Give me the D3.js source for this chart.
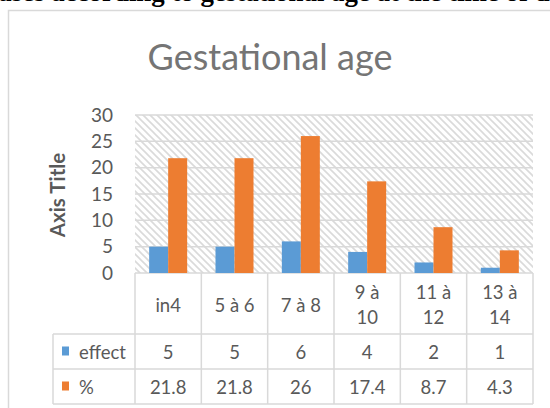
<!DOCTYPE html>
<html>
<head>
<meta charset="utf-8">
<script src="https://cdn.jsdelivr.net/npm/d3@7"></script>
<style>
  html, body { margin: 0; padding: 0; background: #fff; }
  svg { display: block; }
</style>
</head>
<body>
<svg id="chart" width="550" height="408"></svg>
<script>
const categories = [["in4"], ["5 à 6"], ["7 à 8"], ["9 à", "10"], ["11 à", "12"], ["13 à", "14"]];
const effectValues = [5, 5, 6, 4, 2, 1];
const percentValues = [21.8, 21.8, 26, 17.4, 8.7, 4.3];
const percentLabels = ["21.8", "21.8", "26", "17.4", "8.7", "4.3"];
const seriesNames = ["effect", "%"];
const seriesColors = ["#5b9bd5", "#ed7d31"];
const yTicks = [0, 5, 10, 15, 20, 25, 30];
const titleText = "Gestational age";
const axisTitle = "Axis Title";
const captionText = "ases according to gestational age at the time of d";

(function () {
const svg = d3.select("#chart");
const font = "Lato, 'Open Sans', sans-serif";
const txt = "#595959";

// caption partially cut off at top (only its lowest part shows)
const cap = svg.append("text").attr("x", 0).attr("y", 1)
  .attr("font-family", "'Liberation Serif', serif").attr("font-weight", "bold")
  .attr("font-size", 20).attr("fill", "#000").text(captionText);
const capNode = cap.node();
try {
  const g1 = capNode.getExtentOfChar(18), g2 = capNode.getExtentOfChar(31);
  const s = 144 / ((g2.x + g2.width / 2) - (g1.x + g1.width / 2));
  if (isFinite(s) && s > 0.5 && s < 2) cap.attr("font-size", 20 * s);
  const g0 = capNode.getExtentOfChar(13);
  const sh = 158 - (g0.x + g0.width / 2);
  if (isFinite(sh)) cap.attr("x", sh);
} catch (e) {}

// chart frame
svg.append("rect").attr("x", 8.5).attr("y", 10.5).attr("width", 560).attr("height", 420)
  .attr("fill", "#fff").attr("stroke", "#d9d9d9").attr("stroke-width", 1.5);

// hatch pattern
const defs = svg.append("defs");
const pat = defs.append("pattern").attr("id", "hatch").attr("patternUnits", "userSpaceOnUse")
  .attr("width", 7).attr("height", 7);
pat.append("rect").attr("width", 7).attr("height", 7).attr("fill", "#fff");
pat.append("path").attr("d", "M-1,-1 L8,8 M-1,6 L1,8 M6,-1 L8,1")
  .attr("stroke", "#dadada").attr("stroke-width", 1.6);

const pL = 135, pR = 533, pT = 115, pB = 273;
const x = d3.scaleBand().domain(d3.range(categories.length)).range([pL, pR]);
const y = d3.scaleLinear().domain([0, 30]).range([pB, pT]);
const xs = d3.scaleBand().domain([0, 1]).range([0, 38]);

// title
svg.append("text").attr("x", 270).attr("y", 70).attr("text-anchor", "middle")
  .attr("font-family", font).attr("font-size", 36).attr("fill", "#757575").text(titleText);

// plot area hatch
svg.append("rect").attr("x", pL).attr("y", pT).attr("width", pR - pL).attr("height", pB - pT)
  .attr("fill", "url(#hatch)");

// gridlines
svg.append("g").selectAll("line").data(yTicks).join("line")
  .attr("x1", pL).attr("x2", pR).attr("y1", d => y(d)).attr("y2", d => y(d))
  .attr("stroke", "#d9d9d9").attr("stroke-width", 1.5);

// y axis
const yAxis = d3.axisLeft(y).tickValues(yTicks).tickSize(0).tickPadding(22);
const ga = svg.append("g").attr("transform", `translate(${pL},0)`).call(yAxis);
ga.select(".domain").remove();
ga.selectAll("text").attr("font-family", font).attr("font-size", 19).attr("fill", txt);

// axis title
svg.append("text").attr("transform", "translate(64.5,195) rotate(-90)").attr("text-anchor", "middle")
  .attr("font-family", font).attr("font-weight", "bold").attr("font-size", 20.5).attr("fill", txt)
  .text(axisTitle);

// bars
const series = [effectValues, percentValues];
series.forEach((vals, si) => {
  svg.append("g").selectAll("rect").data(vals).join("rect")
    .attr("x", (d, i) => x(i) + (x.bandwidth() - 38) / 2 + xs(si))
    .attr("width", xs.bandwidth())
    .attr("y", d => y(d)).attr("height", d => y(0) - y(d))
    .attr("fill", seriesColors[si]);
});

// data table
const rowCat = [273, 334], rowE = [334, 369], rowP = [369, 404];
const legLeft = 53;
const fs = 18.5;
const tg = svg.append("g");
const lc = "#d9d9d9";
function line(x1, y1, x2, y2) {
  tg.append("line").attr("x1", x1).attr("y1", y1).attr("x2", x2).attr("y2", y2)
    .attr("stroke", lc).attr("stroke-width", 1.5);
}
d3.range(categories.length + 1).forEach(i => {
  const xx = i < categories.length ? x(i) : pR;
  line(xx, pB, xx, rowP[1]);
});
line(legLeft, rowE[0], legLeft, rowP[1]);
line(legLeft, rowE[0], pR, rowE[0]);
line(legLeft, rowP[0], pR, rowP[0]);
line(legLeft, rowP[1], pR, rowP[1]);

categories.forEach((lines, i) => {
  const cx = x(i) + x.bandwidth() / 2;
  const t = tg.append("text").attr("text-anchor", "middle").attr("font-family", font)
    .attr("font-size", fs).attr("fill", txt);
  const cy = (rowCat[0] + rowCat[1]) / 2 + 1.5;
  const lh = 25;
  lines.forEach((l, k) => {
    t.append("tspan").attr("x", cx).attr("y", cy + (k - (lines.length - 1) / 2) * lh + 6.5).text(l);
  });
});
const rows = [[effectValues.map(String), rowE], [percentLabels, rowP]];
rows.forEach(([labels, r], si) => {
  labels.forEach((l, i) => {
    tg.append("text").attr("x", x(i) + x.bandwidth() / 2).attr("y", (r[0] + r[1]) / 2 + 7)
      .attr("text-anchor", "middle").attr("font-family", font).attr("font-size", fs)
      .attr("fill", txt).text(l);
  });
  tg.append("rect").attr("x", 62).attr("y", (r[0] + r[1]) / 2 - 5).attr("width", 7).attr("height", 9)
    .attr("fill", seriesColors[si]);
  tg.append("text").attr("x", 79).attr("y", (r[0] + r[1]) / 2 + 7)
    .attr("font-family", font).attr("font-size", fs).attr("fill", txt).text(seriesNames[si]);
});
})();
</script>
</body>
</html>
